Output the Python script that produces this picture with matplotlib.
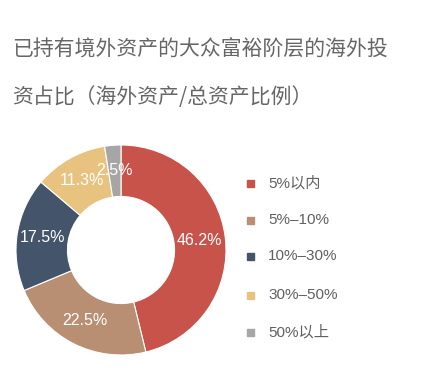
#! /usr/bin/env python3
"""
Donut chart: share of overseas assets among mass-affluent investors.
"""
import matplotlib
matplotlib.use('Agg')
import matplotlib.pyplot as plt

plt.rcParams['font.family'] = ['Noto Sans CJK SC', 'DejaVu Sans']

categories = ['5%以内', '5%–10%', '10%–30%', '30%–50%', '50%以上']
shares = [46.2, 22.5, 17.5, 11.3, 2.5]
colors = ['#c8534a', '#b88f73', '#44546a', '#e8c380', '#a6a6a6']
title_lines = ['已持有境外资产的大众富裕阶层的海外投', '资占比（海外资产/总资产比例）']

W, H = 424, 382
fig = plt.figure(figsize=(W / 100, H / 100), dpi=100)
num_font = ['Liberation Sans', 'Noto Sans CJK SC']

# title, two lines
for y, line in zip([50, 97], title_lines):
    fig.text(12 / W, 1 - y / H, line, fontsize=15, color='#666666',
             fontweight='normal', va='center', ha='left')

# donut: center (121, 250) px, radius 105 px
cx, cy, r = 121, 250, 105
ax = fig.add_axes([(cx - r) / W, 1 - (cy + r) / H, 2 * r / W, 2 * r / H])
wedges, texts, autotexts = ax.pie(
    shares, colors=colors, startangle=90, counterclock=False, radius=1,
    autopct=lambda p: '', pctdistance=0.755,
    wedgeprops=dict(width=0.49, edgecolor='white', linewidth=0.8))
for at, v in zip(autotexts, shares):
    at.set_text(f'{v}%')
    at.set_color('white')
    at.set_fontsize(11.5)
    at.set_family(num_font)
ax.set_xlim(-1, 1)
ax.set_ylim(-1, 1)
ax.set_aspect('equal')
ax.axis('off')

# legend
ys = [183, 220, 256, 295, 332]
for y, lab, c in zip(ys, categories, colors):
    fig.patches.append(plt.Rectangle((247 / W, 1 - (y + 3.5) / H), 7 / W, 7 / H,
                                     transform=fig.transFigure, color=c))
    fig.text(268 / W, 1 - y / H, lab, fontsize=11, color='#606060',
             family=num_font, va='center', ha='left')

fig.savefig('out.png', dpi=100, facecolor='white')
